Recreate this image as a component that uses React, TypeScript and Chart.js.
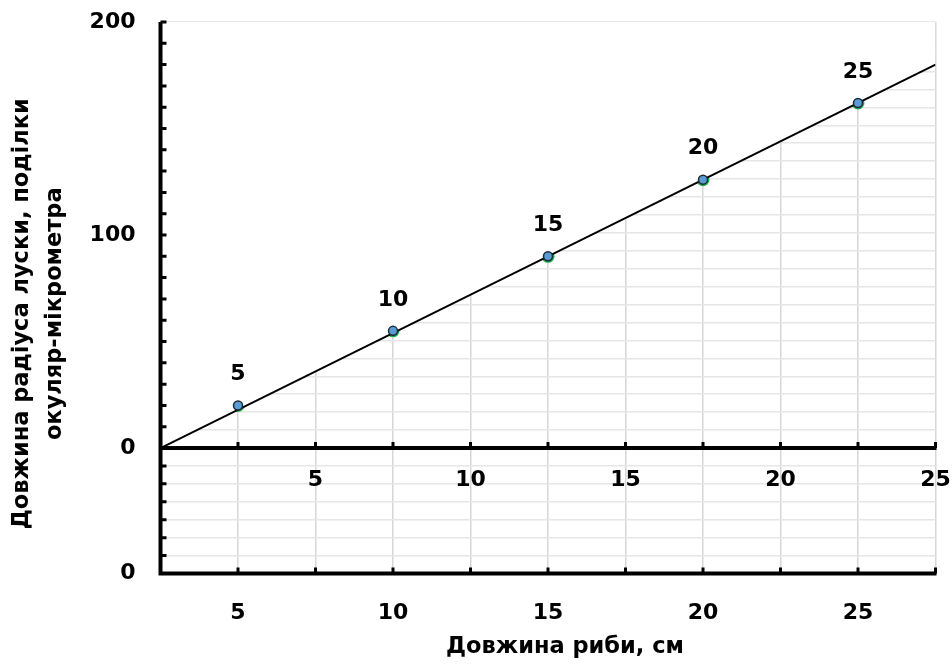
import React, { useEffect, useRef } from 'react';
import { Chart, registerables } from 'chart.js';

Chart.register(...registerables);

// ---- data ----
const fishLengthCm = [5, 10, 15, 20, 25];
const scaleRadiusDiv = [20, 55, 90, 126, 162];
const pointLabels = ['5', '10', '15', '20', '25'];
const trendLineX = [2.5, 27.5];
const trendLineY = [0, 180];
const bottomAxisLabels = [5, 10, 15, 20, 25];
const middleAxisLabels = [5, 10, 15, 20, 25];
const leftAxisLabels = [0, 100, 200];
const lowerZeroLabel = '0';
const xTitle = 'Довжина риби, см';
const yTitle = ['Довжина радіуса луски, поділки', 'окуляр-мікрометра'];

// axis ranges / tick steps
const X_MIN = 2.5;
const X_MAX = 27.5;
const X_STEP = 2.5;
const MID_MIN = 0;
const MID_MAX = 25;
const Y_MIN = -58.9;
const Y_MAX = 200;
const Y_MINOR_STEP = 10;
const LOWER_MAX = 30.76;
const LOWER_TICKS = 7;

const FONT_FAMILY = "'DejaVu Sans', 'Liberation Sans', Arial, sans-serif";
const TICK_SIZE = 22;
const TITLE_SIZE = 22.5;

const overlayPlugin = {
  id: 'overlay',
  afterDatasetsDraw(chart: any) {
    const { ctx, chartArea: ca, scales } = chart;
    const x = scales.x;
    const xm = scales.xMid;
    const y = scales.y;
    const y2 = scales.y2;
    const midY = y.getPixelForValue(0);

    ctx.save();
    ctx.strokeStyle = '#000';
    ctx.lineCap = 'butt';

    // tick marks (inward)
    ctx.lineWidth = 3;
    ctx.beginPath();
    x.ticks.forEach((t: any) => {
      const px = x.getPixelForValue(t.value);
      ctx.moveTo(px, ca.bottom);
      ctx.lineTo(px, ca.bottom - 6);
      ctx.moveTo(px, midY);
      ctx.lineTo(px, midY - 6);
    });
    for (let v = 0; v <= Y_MAX; v += Y_MINOR_STEP) {
      const py = y.getPixelForValue(v);
      ctx.moveTo(ca.left, py);
      ctx.lineTo(ca.left + 6, py);
    }
    for (let k = 0; k <= LOWER_TICKS; k++) {
      const py = y2.getPixelForValue(k);
      ctx.moveTo(ca.left, py);
      ctx.lineTo(ca.left + 6, py);
    }
    ctx.stroke();

    // axis lines
    ctx.lineWidth = 4;
    ctx.beginPath();
    ctx.moveTo(ca.left, ca.top);
    ctx.lineTo(ca.left, ca.bottom + 2);
    ctx.moveTo(ca.left - 2, ca.bottom);
    ctx.lineTo(ca.right + 1, ca.bottom);
    ctx.moveTo(ca.left - 2, midY);
    ctx.lineTo(ca.right + 1, midY);
    ctx.stroke();

    ctx.fillStyle = '#000';
    ctx.font = `bold ${TICK_SIZE}px ${FONT_FAMILY}`;
    ctx.textAlign = 'center';
    ctx.textBaseline = 'middle';

    // middle axis labels
    middleAxisLabels.forEach((v) => {
      ctx.fillText(String(v), xm.getPixelForValue(v), midY + 32);
    });

    // point labels
    const meta = chart.getDatasetMeta(0);
    meta.data.forEach((pt: any, i: number) => {
      ctx.fillText(pointLabels[i], pt.x, pt.y - 31);
    });

    // axis titles
    ctx.font = `bold ${TITLE_SIZE}px ${FONT_FAMILY}`;
    ctx.fillText(xTitle, (ca.left + ca.right) / 2 + 17, ca.bottom + 74);
    ctx.save();
    ctx.translate(22, (ca.top + ca.bottom) / 2 + 16);
    ctx.rotate(-Math.PI / 2);
    yTitle.forEach((line, i) => {
      ctx.fillText(line, 0, i * 33);
    });
    ctx.restore();

    ctx.restore();
  },
};

export default function App() {
  const canvasRef = useRef<HTMLCanvasElement | null>(null);

  useEffect(() => {
    if (!canvasRef.current) return;
    const tickFont = { family: FONT_FAMILY, size: TICK_SIZE, weight: 'bold' as const };

    const chart = new Chart(canvasRef.current, {
      type: 'scatter',
      data: {
        datasets: [
          {
            label: 'points',
            data: fishLengthCm.map((v, i) => ({ x: v, y: scaleRadiusDiv[i] })),
            xAxisID: 'x',
            yAxisID: 'y',
            showLine: false,
            pointRadius: 4.5,
            pointBackgroundColor: '#5B9BD5',
            pointBorderColor: '#1b2a38',
            pointBorderWidth: 1.5,
          },
          {
            label: 'trend',
            data: trendLineX.map((v, i) => ({ x: v, y: trendLineY[i] })),
            xAxisID: 'x',
            yAxisID: 'y',
            showLine: true,
            borderColor: '#000',
            borderWidth: 2,
            pointRadius: 0,
            fill: 'end',
            backgroundColor: '#ffffff',
          },
          {
            label: 'marker halo',
            data: fishLengthCm.map((v, i) => ({ x: v, y: scaleRadiusDiv[i] })),
            xAxisID: 'x',
            yAxisID: 'y',
            showLine: false,
            pointRadius: 6.5,
            pointBackgroundColor: '#22b14c',
            pointBorderWidth: 0,
          },
        ],
      },
      options: {
        animation: false,
        responsive: false,
        events: [],
        layout: { padding: { top: 22, right: 16.5, left: 0, bottom: 0 } },
        plugins: {
          legend: { display: false },
          tooltip: { enabled: false },
        },
        scales: {
          x: {
            type: 'linear',
            position: 'bottom',
            min: X_MIN,
            max: X_MAX,
            ticks: {
              stepSize: X_STEP,
              autoSkip: false,
              maxRotation: 0,
              padding: 0,
              color: '#000',
              font: tickFont,
              callback: (v: any) => (bottomAxisLabels.includes(Number(v)) ? String(v) : ''),
            },
            grid: {
              color: '#d6d6d6',
              lineWidth: 1.5,
              drawTicks: true,
              tickLength: 27,
              tickColor: 'rgba(0,0,0,0)',
            },
            border: { display: false },
            afterFit: (s: any) => {
              s.height = 90.5;
            },
          },
          xMid: {
            type: 'linear',
            axis: 'x',
            position: 'bottom',
            min: MID_MIN,
            max: MID_MAX,
            display: false,
          },
          y: {
            type: 'linear',
            position: 'left',
            min: Y_MIN,
            max: Y_MAX,
            afterBuildTicks: (s: any) => {
              s.ticks = [{ value: Y_MIN }, ...leftAxisLabels.map((v) => ({ value: v }))];
            },
            ticks: {
              autoSkip: false,
              padding: 0,
              color: '#000',
              font: tickFont,
              callback: (v: any) => (Number(v) < 0 ? lowerZeroLabel : String(v)),
            },
            grid: { display: false, drawTicks: true, tickLength: 25 },
            border: { display: false },
            afterFit: (s: any) => {
              s.width = 160.5;
            },
          },
          y2: {
            type: 'linear',
            axis: 'y',
            position: 'left',
            min: 0,
            max: LOWER_MAX,
            ticks: { display: false, stepSize: 1 },
            grid: { color: '#e6e6e6', lineWidth: 1.5, drawTicks: false },
            border: { display: false },
            afterFit: (s: any) => {
              s.width = 0;
            },
          },
        },
      },
      plugins: [overlayPlugin],
    } as any);

    return () => chart.destroy();
  }, []);

  return (
    <div style={{ position: 'fixed', left: 0, top: 0, width: 952, height: 664, background: '#fff' }}>
      <canvas ref={canvasRef} width={952} height={664} style={{ display: 'block' }} />
    </div>
  );
}
